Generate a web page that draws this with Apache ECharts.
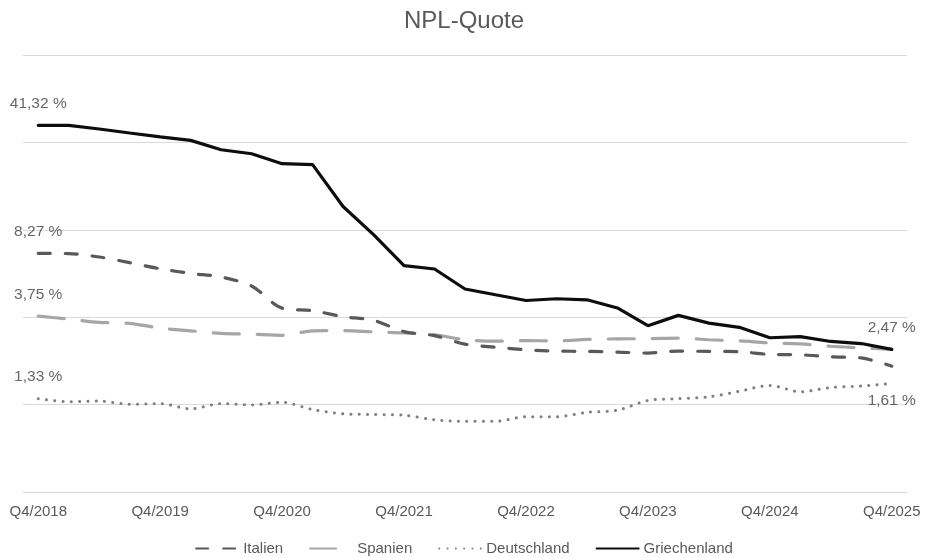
<!DOCTYPE html>
<html>
<head>
<meta charset="utf-8">
<script src="https://cdn.jsdelivr.net/npm/echarts@6/dist/echarts.min.js"></script>
<style>
html,body{margin:0;padding:0;background:#fff;}
#chart{width:928px;height:558px;}
</style>
</head>
<body>
<div id="chart"></div>
<script>
const categories = [
  "Q4/2018","Q1/2019","Q2/2019","Q3/2019","Q4/2019","Q1/2020","Q2/2020","Q3/2020",
  "Q4/2020","Q1/2021","Q2/2021","Q3/2021","Q4/2021","Q1/2022","Q2/2022","Q3/2022",
  "Q4/2022","Q1/2023","Q2/2023","Q3/2023","Q4/2023","Q1/2024","Q2/2024","Q3/2024",
  "Q4/2024","Q1/2025","Q2/2025","Q3/2025","Q4/2025"
];
const italien = [8.27,8.24,7.89,7.35,6.81,6.42,6.14,5.48,4.15,4.02,3.73,3.56,3.09,2.94,2.64,2.54,2.46,2.42,2.41,2.39,2.36,2.42,2.41,2.40,2.32,2.31,2.25,2.22,2.00];
const spanien = [3.75,3.62,3.47,3.43,3.23,3.12,3.02,2.99,2.95,3.12,3.13,3.08,3.04,2.97,2.79,2.74,2.76,2.75,2.80,2.82,2.83,2.85,2.79,2.75,2.68,2.65,2.57,2.52,2.47];
const deutschland = [1.33,1.28,1.29,1.24,1.25,1.17,1.25,1.23,1.27,1.16,1.10,1.09,1.08,1.02,1.00,1.00,1.06,1.06,1.12,1.15,1.30,1.33,1.36,1.46,1.57,1.45,1.53,1.56,1.61];
const griechenland = [41.32,41.30,39.45,37.5,35.7,34.2,30.4,28.9,25.5,25.2,14.9,10.45,7.08,6.79,5.28,4.91,4.57,4.67,4.61,4.16,3.33,3.79,3.44,3.26,2.86,2.90,2.73,2.66,2.47];
const seriesNames = ["Italien","Spanien","Deutschland","Griechenland"];

// Excel-style logarithmic axis with base 3, topped at 100 %
const LOG_BASE = 3, TOP = 100;
function toAxis(v){ return Math.log(v/TOP)/Math.log(LOG_BASE); }
function fmt(v){ return v.toFixed(2).replace('.', ',') + ' %'; }

const FONT = 'Liberation Sans, Arial, sans-serif';
const last = categories.length - 1;

// which points carry a value label: [series values, index, position]
const labelPoints = [
  [griechenland, 0, 'top'],
  [italien, 0, 'top'],
  [spanien, 0, 'top'],
  [deutschland, 0, 'top'],
  [griechenland, last, 'top'],
  [deutschland, last, 'bottom']
];

const labelData = labelPoints.map(([arr, i, pos]) => ({
  value: [categories[i], toAxis(arr[i])],
  label: {
    show: true, position: pos, distance: pos === 'top' ? 13 : 9,
    formatter: fmt(arr[i]), color: '#404040', fontSize: 15.5, fontFamily: FONT
  }
}));

function lineSeries(name, values, color, width, type, smooth, z){
  return {
    name, type:'line', symbol:'none', smooth, z,
    itemStyle:{color},
    lineStyle:{color, width, type, cap:'round'},
    data: values.map(toAxis)
  };
}

const chart = echarts.init(document.getElementById('chart'), null, {renderer:'canvas'});
chart.setOption({
  animation:false,
  backgroundColor:'#ffffff',
  textStyle:{fontFamily:FONT},
  title:{
    text:'NPL-Quote', left:'center', top:4,
    textStyle:{fontSize:24, fontWeight:'normal', color:'#595959', fontFamily:FONT}
  },
  legend:{
    top:536, left:'center', itemWidth:42, itemHeight:12, itemGap:26,
    itemStyle:{color:'rgba(0,0,0,0)', borderWidth:0, opacity:0},
    textStyle:{fontSize:15, color:'#595959', fontFamily:FONT},
    data:seriesNames
  },
  grid:{left:23, right:21, top:55, bottom:66, containLabel:false},
  xAxis:{
    type:'category', data:categories, boundaryGap:true,
    axisLine:{show:false}, axisTick:{show:false},
    axisLabel:{interval:3, color:'#595959', fontSize:15, margin:12, fontFamily:FONT},
    splitLine:{show:false}
  },
  yAxis:{
    type:'value', min:-5, max:0, interval:1,
    axisLabel:{show:false}, axisLine:{show:false}, axisTick:{show:false},
    splitLine:{show:true, lineStyle:{color:'#d9d9d9', width:1}}
  },
  series:[
    lineSeries('Italien', italien, '#595959', 3.2, [12,15], 0.3, 3),
    lineSeries('Spanien', spanien, '#a6a6a6', 3.2, [26,18], 0.3, 2),
    lineSeries('Deutschland', deutschland, '#7f7f7f', 3, [0.1,8.2], 0.3, 2),
    lineSeries('Griechenland', griechenland, '#0d0d0d', 3.2, 'solid', false, 4),
    {
      name:'labels', type:'scatter', symbolSize:1, silent:true, z:5,
      itemStyle:{color:'rgba(0,0,0,0)'},
      data: labelData
    }
  ]
});
</script>
</body>
</html>
